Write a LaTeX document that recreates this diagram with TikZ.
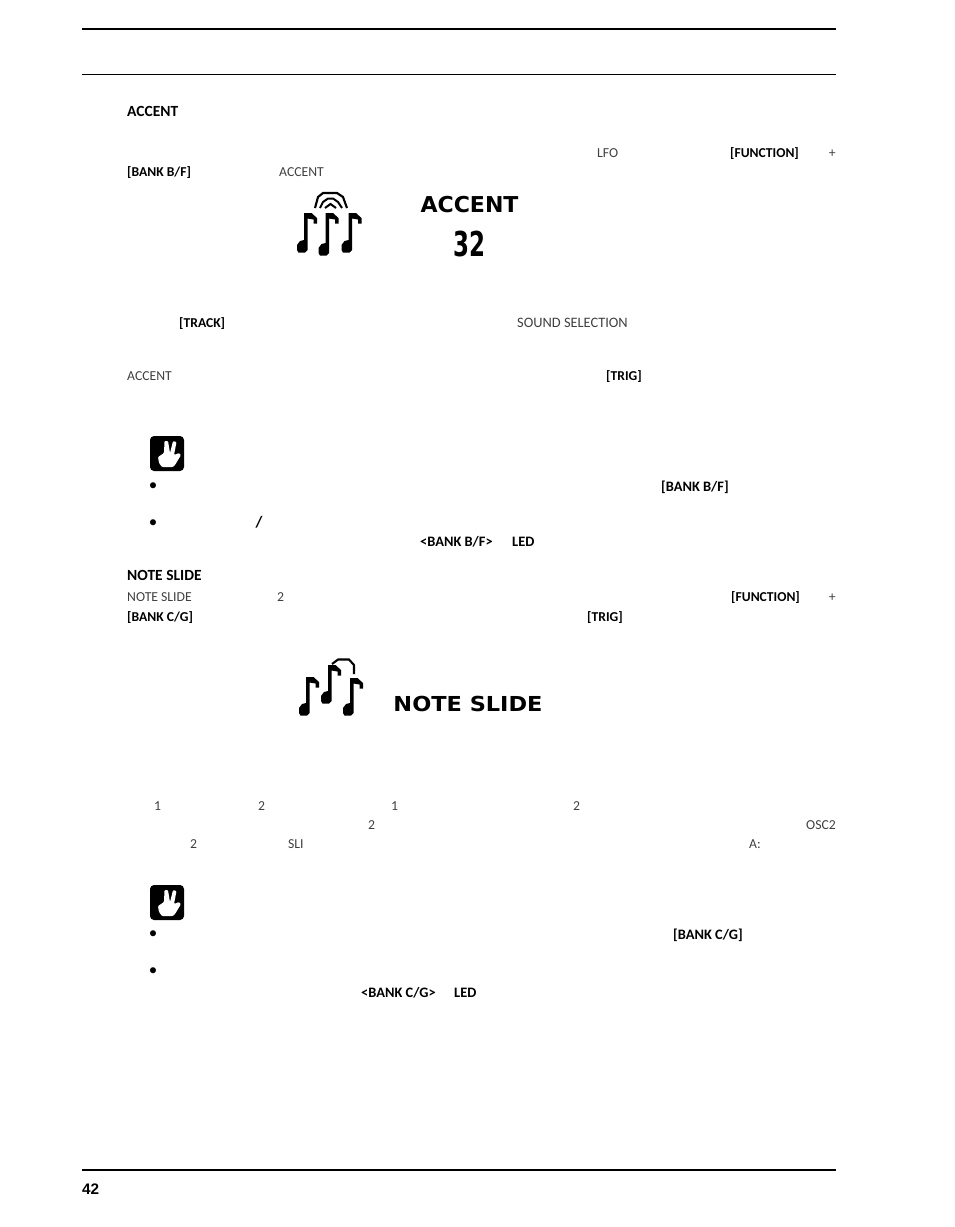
\documentclass[tikz,border=0pt]{standalone}
\usepackage{fontspec}
\setmainfont{Carlito}
\newfontfamily\pagenumfont{Liberation Sans}
\newfontfamily\lcdfont{DejaVu Sans}

\tikzset{
    head/.style={anchor=base west, inner sep=0pt, font=\fontsize{15.5}{18}\selectfont\bfseries},
    key/.style={anchor=base west, inner sep=0pt, font=\fontsize{13.6}{16}\selectfont\bfseries},
    tip key/.style={key, font=\fontsize{14.4}{16}\selectfont\bfseries},
    thin text/.style={anchor=base west, inner sep=0pt, text=black!75, font=\fontsize{13.7}{16}\selectfont},
    lcd/.style={inner sep=0pt},
    bullet/.style={inner sep=0pt, font=\fontsize{17}{20}\selectfont},
    rule thick/.style={line width=2.1pt},
    rule thin/.style={line width=0.9pt}
}

% note at stem top (x,y): head below the stem, flag to the right
\newcommand{\pixnote}[3]{
    \fill (#1, #2) -- (#1+7.5, #2) -- (#1+13, #2+5) -- (#1+13, #2+10.5) -- (#1+9.5, #2+10.5)
        -- (#1+9.5, #2+6.5) -- (#1+3.5, #2+5.5) -- (#1+3.5, #2+#3+8) -- (#1+1, #2+#3+10.5) -- (#1-5.5, #2+#3+10.5)
        -- (#1-7, #2+#3+8) -- (#1-7, #2+#3+3) -- (#1-4, #2+#3-1) -- (#1, #2+#3-2) -- cycle;
}
\newcommand{\victoryhand}[2]{
    \fill[rounded corners=4pt] (#1, #2) rectangle ++(34, 35);
    \fill[white, rounded corners=1pt] (#1+14.5, #2+5) -- (#1+18, #2+5) -- (#1+20, #2+17) -- (#1+23, #2+5)
        -- (#1+26.5, #2+6) -- (#1+24, #2+19) -- (#1+29, #2+17) -- (#1+31, #2+19) -- (#1+25, #2+29)
        -- (#1+23, #2+31) -- (#1+12, #2+31) -- (#1+9, #2+27) -- (#1+8, #2+21) -- (#1+14, #2+17) -- cycle;
}

\begin{document}
\begin{tikzpicture}[x=1pt, y=-1pt]
    \useasboundingbox (0, 0) rectangle (954, 1227);
    \draw[rule thick] (82, 29)--(836, 29);
    \draw[rule thin] (82, 74.5)--(836, 74.5);
    \draw[rule thick] (82, 1170)--(836, 1170);
    \node[inner sep=0pt, anchor=base west, font=\pagenumfont\fontsize{15.3}{18}\selectfont\bfseries] (pagenum) at (82, 1194) {42};

    % accent
    \node[head] (accenthead) at (127, 116) {ACCENT};
    \node[thin text] (lfo) at (597, 157) {LFO};
    \node[key] (functiona) at (730, 157) {[FUNCTION]};
    \node[thin text, anchor=base east] (plusa) at (836, 157) {+};
    \node[key] (bankba) at (127, 176) {[BANK B/F]};
    \node[thin text] (accentb) at (279, 176) {ACCENT};

    \pixnote{304}{213}{29}
    \pixnote{325.5}{213}{32}
    \pixnote{348.5}{213}{29}
    \draw[line width=2.1pt] (315, 208) -- (318, 197) -- (323, 193) -- (337, 193) -- (343, 197) -- (347, 208);
    \draw[line width=2pt] (320, 208) -- (323, 202) -- (328, 198.5) -- (333, 198.5) -- (338, 202) -- (342, 208);
    \draw[line width=2pt] (325, 208) -- (330.5, 204) -- (336, 208);
    \node[lcd, font=\lcdfont\bfseries\fontsize{17.5}{20}\selectfont] (lcdaccent) at (469.5, 205) {\scalebox{1.26}[1.25]{ACCENT}};
    \node[lcd, font=\lcdfont\bfseries\fontsize{27}{30}\selectfont] (lcdvalue) at (469, 244.5) {\scalebox{0.85}[1.27]{32}};

    \node[key] (track) at (179, 327) {[TRACK]};
    \node[thin text, font=\fontsize{14.4}{16}\selectfont] (soundsel) at (517, 327) {SOUND SELECTION};
    \node[thin text] (accentc) at (127, 380) {ACCENT};
    \node[key] (triga) at (606, 380) {[TRIG]};

    \victoryhand{150}{436}
    \node[bullet] (bulleta) at (153, 486.5) {•};
    \node[tip key] (bankbb) at (661, 491) {[BANK B/F]};
    \node[bullet] (bulletb) at (153, 523.5) {•};
    \node[head, font=\fontsize{16}{18}\selectfont\bfseries] (slash) at (255.5, 527) {/};
    \node[tip key] (bankbled) at (420, 546) {<BANK B/F>};
    \node[tip key] (leda) at (512, 546) {LED};

    % note slide
    \node[head] (slidehead) at (127, 580) {NOTE SLIDE};
    \node[thin text] (slidea) at (127, 601) {NOTE SLIDE};
    \node[thin text] (twoa) at (277, 601) {2};
    \node[key] (functionb) at (731, 601) {[FUNCTION]};
    \node[thin text, anchor=base east] (plusb) at (836, 601) {+};
    \node[key] (bankca) at (127, 621) {[BANK C/G]};
    \node[key] (trigb) at (587, 621) {[TRIG]};

    \pixnote{306}{677}{28}
    \pixnote{328}{665}{28}
    \pixnote{350}{678}{27}
    \draw[line width=2.1pt] (332, 664) -- (338, 659.5) -- (349, 659.5) -- (354, 665) -- (354, 674);
    \node[lcd, font=\lcdfont\bfseries\fontsize{16.5}{20}\selectfont] (lcdslide) at (468, 704) {\scalebox{1.36}[1.25]{NOTE SLIDE}};

    \node[thin text] (onea) at (154, 810) {1};
    \node[thin text] (twob) at (258, 810) {2};
    \node[thin text] (oneb) at (391, 810) {1};
    \node[thin text] (twoc) at (573, 810) {2};
    \node[thin text] (twod) at (368, 829) {2};
    \node[thin text, anchor=base east] (osc) at (836, 829) {OSC2};
    \node[thin text] (twoe) at (190, 848) {2};
    \node[thin text] (sli) at (288, 848) {SLI};
    \node[thin text] (acolon) at (749, 848) {A:};

    \victoryhand{150}{885}
    \node[bullet] (bulletc) at (153, 934.5) {•};
    \node[tip key] (bankcb) at (673, 939) {[BANK C/G]};
    \node[bullet] (bulletd) at (153, 971.5) {•};
    \node[tip key] (bankcled) at (361, 997) {<BANK C/G>};
    \node[tip key] (ledb) at (454, 997) {LED};
\end{tikzpicture}
\end{document}
